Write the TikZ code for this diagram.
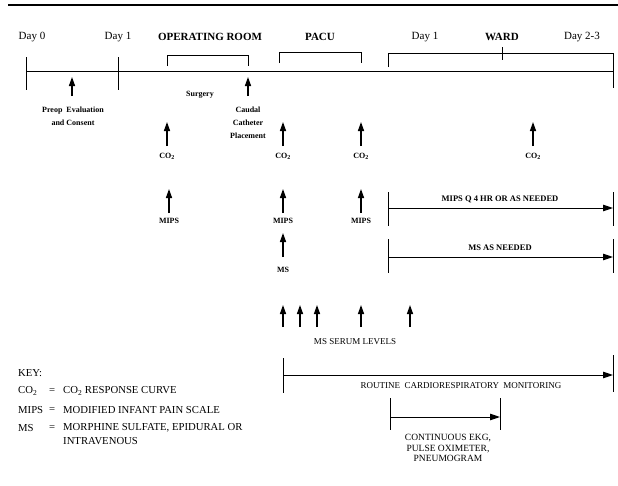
\documentclass[tikz,border=0pt]{standalone}
\usepackage{fontspec}
\setmainfont{Liberation Serif}
\usetikzlibrary{arrows.meta}
\begin{document}
\begin{tikzpicture}[x=1pt,y=-1pt,
  ln/.style={line width=1pt},
  uparrow/.style={line width=1.4pt,-{Triangle[length=9pt,width=6pt]}},
  spanarrow/.style={line width=1pt,-{Triangle[length=10pt,width=6.5pt]}},
  headt/.style={font=\fontsize{11}{12}\selectfont\bfseries,inner sep=0},
  dayt/.style={font=\fontsize{11}{12}\selectfont,inner sep=0},
  smallt/.style={font=\fontsize{8}{13}\selectfont\bfseries,align=center,inner sep=0},
  capt/.style={font=\fontsize{8}{10}\selectfont\bfseries,align=center,inner sep=0},
  spant/.style={font=\fontsize{8.5}{10}\selectfont\bfseries,align=center,inner sep=0},
  midt/.style={font=\fontsize{9}{10}\selectfont,align=center,inner sep=0},
  keyt/.style={font=\fontsize{10.7}{12}\selectfont,anchor=west,inner sep=0}]
\useasboundingbox (0,0) rectangle (618,485);
\coordinate (ruleL) at (8,5); \coordinate (ruleR) at (618,5);
\draw[line width=1.2pt] (ruleL) -- (ruleR);
% timeline
\coordinate (t0) at (26,71); \coordinate (tend) at (613,71);
\draw[ln] (t0) -- (tend);
\draw[ln] (26,57) -- (26,90);
\draw[ln] (118,57) -- (118,90);
\draw[ln] (613,53) -- (613,88);
% brackets
\draw[ln] (167,66) -- (167,55) -- (248,55) -- (248,66);
\draw[ln] (279,63) -- (279,52) -- (361,52) -- (361,63);
\draw[ln] (388,67) -- (388,53) -- (613,53);
\draw[ln] (502,47) -- (502,60);
% header labels
\node[dayt] (day0) at (32,37) {Day 0};
\node[dayt] (day1) at (118,37) {Day 1};
\node[headt] (orl) at (210,37) {OPERATING ROOM};
\node[headt] (pacu) at (320,37) {PACU};
\node[dayt] (day1b) at (425,37) {Day 1};
\node[headt] (ward) at (502,37) {WARD};
\node[dayt] (day23) at (582,37) {Day 2-3};
% preop and surgery
\coordinate (pre0) at (72,96); \coordinate (pre1) at (72,77);
\draw[uparrow] (pre0) -- (pre1);
\node[smallt] (preop) at (73,116) {Preop\ \ Evaluation\\and Consent};
\node[smallt] (surg) at (200,95) {Surgery};
\coordinate (cau0) at (248,96); \coordinate (cau1) at (248,77);
\draw[uparrow] (cau0) -- (cau1);
\node[smallt] (caudal) at (248,123) {Caudal\\Catheter\\Placement};
% CO2 arrows
\foreach \x/\n in {167/a,283/b,361/c,533/d}{
  \coordinate (co\n0) at (\x,146); \coordinate (co\n1) at (\x,122);
  \draw[uparrow] (co\n0) -- (co\n1);
  \node[capt] (col\n) at (\x,156) {CO\textsubscript{2}};
}
% MIPS arrows
\foreach \x/\n in {169/a,283/b,361/c}{
  \coordinate (mi\n0) at (\x,213); \coordinate (mi\n1) at (\x,189);
  \draw[uparrow] (mi\n0) -- (mi\n1);
  \node[capt] (mil\n) at (\x,221) {MIPS};
}
% MS arrow
\coordinate (ms0) at (283,257); \coordinate (ms1) at (283,233);
\draw[uparrow] (ms0) -- (ms1);
\node[capt] (msl) at (283,270) {MS};
% MIPS Q4 interval
\draw[ln] (388,192) -- (388,226);
\draw[ln] (613,192) -- (613,226);
\coordinate (mq0) at (388,208); \coordinate (mq1) at (613,208);
\draw[spanarrow] (mq0) -- (mq1);
\node[spant] (mql) at (500,199) {MIPS Q 4 HR OR AS NEEDED};
% MS as needed
\draw[ln] (388,239) -- (388,273);
\draw[ln] (613,239) -- (613,273);
\coordinate (mn0) at (388,257); \coordinate (mn1) at (613,257);
\draw[spanarrow] (mn0) -- (mn1);
\node[spant] (mnl) at (500,248) {MS AS NEEDED};
% serum arrows
\foreach \x/\n in {283/a,300/b,317/c,361/d,410/e}{
  \coordinate (se\n0) at (\x,327); \coordinate (se\n1) at (\x,305);
  \draw[uparrow] (se\n0) -- (se\n1);
}
\node[midt] (serum) at (355,342) {MS SERUM LEVELS};
% routine monitoring
\draw[ln] (283,358) -- (283,393);
\draw[ln] (613,355) -- (613,392);
\coordinate (ro0) at (283,375); \coordinate (ro1) at (613,375);
\draw[spanarrow] (ro0) -- (ro1);
\node[midt] (routine) at (461,386) {ROUTINE\ \ CARDIORESPIRATORY\ \ MONITORING};
% continuous
\draw[ln] (390,398) -- (390,430);
\draw[ln] (500,398) -- (500,430);
\coordinate (cn0) at (390,417); \coordinate (cn1) at (500,417);
\draw[spanarrow] (cn0) -- (cn1);
\node[font=\fontsize{9.5}{10.5}\selectfont,align=center,inner sep=0] (cont) at (448,448) {CONTINUOUS EKG,\\PULSE OXIMETER,\\PNEUMOGRAM};
% key
\node[keyt] (key) at (18,373) {KEY:};
\node[keyt] (k1a) at (18,391) {CO\textsubscript{2}};
\node[keyt] (k1b) at (49,391) {=};
\node[keyt] (k1c) at (63,391) {CO\textsubscript{2} RESPONSE CURVE};
\node[keyt] (k2a) at (18,410) {MIPS};
\node[keyt] (k2b) at (49,410) {=};
\node[keyt] (k2c) at (63,410) {MODIFIED INFANT PAIN SCALE};
\node[keyt] (k3a) at (18,428) {MS};
\node[keyt] (k3b) at (49,428) {=};
\node[keyt] (k3c) at (63,428) {MORPHINE SULFATE, EPIDURAL OR};
\node[keyt] (k3d) at (63,441) {INTRAVENOUS};
\end{tikzpicture}
\end{document}
